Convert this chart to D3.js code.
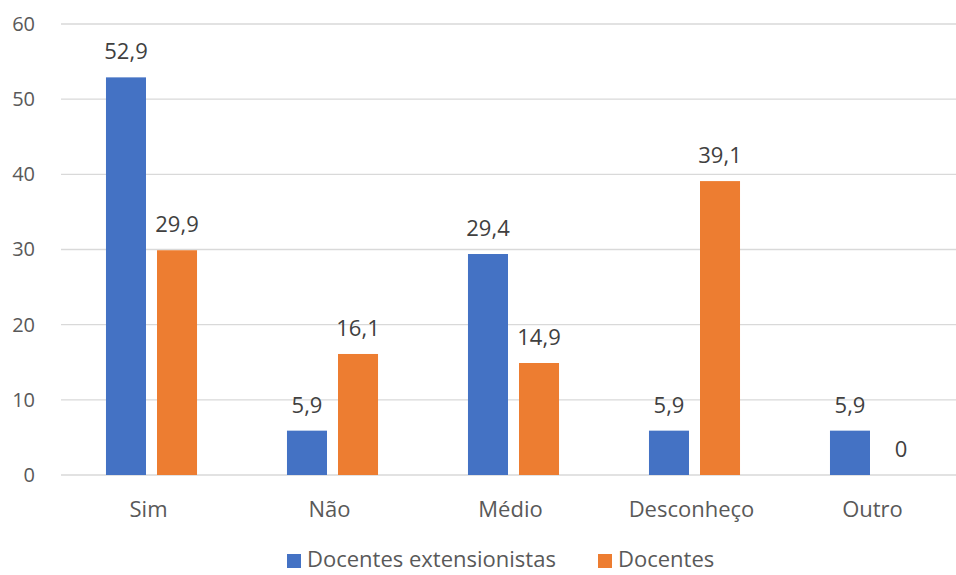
<!DOCTYPE html>
<html>
<head>
<meta charset="utf-8">
<script src="https://cdn.jsdelivr.net/npm/d3@7"></script>
<style>
  html, body { margin: 0; padding: 0; background: #fff; }
  svg { display: block; }
  text { font-family: "Open Sans", "Noto Sans", sans-serif; }
</style>
</head>
<body>
<svg id="chart" width="956" height="575"></svg>
<script>
// Respostas por categoria (%)
const categories = ["Sim", "Não", "Médio", "Desconheço", "Outro"];
const seriesNames = ["Docentes extensionistas", "Docentes"];
const extensionistas = [52.9, 5.9, 29.4, 5.9, 5.9];
const docentes = [29.9, 16.1, 14.9, 39.1, 0];
const yTicks = [0, 10, 20, 30, 40, 50, 60];
const colors = ["#4472C4", "#ED7D31"];

const seriesValues = [extensionistas, docentes];
const rows = categories.map((c, i) => ({
  category: c,
  values: seriesNames.map((s, k) => ({ series: s, k, value: seriesValues[k][i] }))
}));

const svg = d3.select("#chart");
const plot = { left: 61, right: 966, top: 24, bottom: 475 };
const textColor = "#595959";

const x0 = d3.scaleBand().domain(categories).range([plot.left, plot.right])
  .paddingInner(0.497).paddingOuter(0.2485);
const x1 = d3.scaleBand().domain(seriesNames).range([0, x0.bandwidth()])
  .paddingInner(0.2157);
const y = d3.scaleLinear().domain([0, 60]).range([plot.bottom, plot.top]);

// Gridlines
svg.append("g")
  .selectAll("line")
  .data(yTicks)
  .join("line")
  .attr("x1", plot.left).attr("x2", 956)
  .attr("y1", d => y(d)).attr("y2", d => y(d))
  .attr("stroke", "#d9d9d9").attr("stroke-width", 1.3);

// Y axis labels
const yAxis = d3.axisLeft(y).tickValues(yTicks).tickSize(0).tickPadding(0)
  .tickFormat(d3.format("d"));
svg.append("g")
  .attr("transform", `translate(${plot.left - 26},0)`)
  .call(yAxis)
  .call(g => g.select(".domain").remove())
  .call(g => g.selectAll("text")
    .attr("fill", textColor).style("font-size", "20px")
    .style("font-family", '"Open Sans", sans-serif'));

// X axis labels
const xAxis = d3.axisBottom(x0).tickSize(0).tickPadding(0);
svg.append("g")
  .attr("transform", `translate(-3,${plot.bottom})`)
  .call(xAxis)
  .call(g => g.select(".domain").remove())
  .call(g => g.selectAll("text")
    .attr("dy", null).attr("y", 42)
    .attr("fill", textColor).style("font-size", "22px")
    .style("font-family", '"Open Sans", sans-serif'));

// Bars
const groups = svg.append("g").selectAll("g")
  .data(rows)
  .join("g")
  .attr("transform", d => `translate(${x0(d.category)},0)`);

groups.selectAll("rect")
  .data(d => d.values)
  .join("rect")
  .attr("x", d => x1(d.series))
  .attr("width", x1.bandwidth())
  .attr("y", d => y(d.value))
  .attr("height", d => y(0) - y(d.value))
  .attr("fill", d => colors[d.k]);

// Value labels
const fmt = v => String(v).replace(".", ",");
groups.selectAll("text.val")
  .data(d => d.values)
  .join("text")
  .attr("class", "val")
  .attr("x", d => x1(d.series) + x1.bandwidth() / 2)
  .attr("y", d => y(d.value) - 18)
  .attr("text-anchor", "middle")
  .attr("fill", "#404040")
  .style("font-size", "22px")
  .text(d => fmt(d.value));

// Legend
const legend = svg.append("g").attr("transform", "translate(287,553)");
const legendX = [0, 311];
seriesNames.forEach((s, k) => {
  const g = legend.append("g").attr("transform", `translate(${legendX[k]},0)`);
  g.append("rect").attr("y", 1).attr("width", 14).attr("height", 14).attr("fill", colors[k]);
  g.append("text").attr("x", 20).attr("y", 14)
    .attr("fill", textColor).style("font-size", "22px").text(s);
});
</script>
</body>
</html>
